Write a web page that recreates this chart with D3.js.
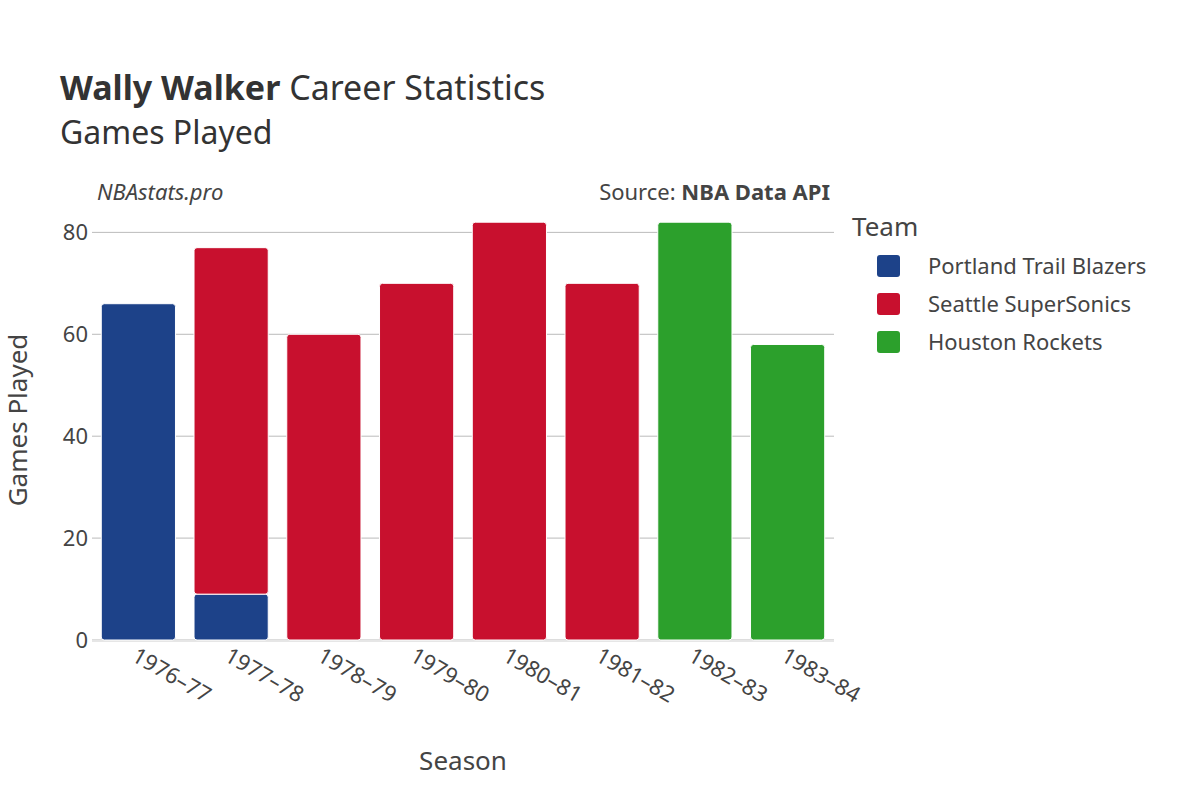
<!DOCTYPE html>
<html><head><meta charset="utf-8">
<script src="https://cdn.jsdelivr.net/npm/d3@7"></script>
<style>body{margin:0;background:#fff;font-family:"Noto Sans",sans-serif;}</style>
</head><body><svg id="chart" width="1200" height="800"></svg>
<script>
var seasons = ["1976–77","1977–78","1978–79","1979–80","1980–81","1981–82","1982–83","1983–84"];
var teams = ["Portland Trail Blazers","Seattle SuperSonics","Houston Rockets"];
var colors = ["#1d4289","#c8102e","#2ca02c"];
var portland = [66,9,0,0,0,0,0,0];
var seattle = [0,68,60,70,82,70,0,0];
var houston = [0,0,0,0,0,0,82,58];
var yTicks = [0,20,40,60,80];

var svg = d3.select("#chart");
var x = d3.scaleBand().domain(seasons).range([92,834]).paddingInner(0.2).paddingOuter(0.1);
var y = d3.scaleLinear().domain([0,84]).range([640,212]);

//gridlines
svg.selectAll(".grid").data(yTicks).enter().append("line")
  .attr("x1",92).attr("x2",834).attr("y1",d=>y(d)).attr("y2",d=>y(d))
  .attr("stroke","#bbb").attr("stroke-width",1);
svg.append("line").attr("x1",92).attr("x2",834).attr("y1",y(0)+1).attr("y2",y(0)+1)
  .attr("stroke","#e6e6e6").attr("stroke-width",2);

svg.selectAll(".ylab").data(yTicks).enter().append("text")
  .attr("x",88).attr("y",d=>y(d)+8).attr("text-anchor","end")
  .attr("font-size",22).attr("fill","#444").text(d=>d);

//stacked bars
var series = [portland,seattle,houston];
seasons.forEach(function(s,i){
  var base = 0;
  series.forEach(function(vals,t){
    var v = vals[i];
    if (!v) return;
    svg.append("rect").attr("x",x(s)).attr("width",x.bandwidth())
      .attr("y",y(base+v)).attr("height",y(base)-y(base+v))
      .attr("rx",3).attr("fill",colors[t]).attr("stroke","#fff").attr("stroke-width",1);
    base += v;
  });
});

//x labels
svg.selectAll(".xlab").data(seasons).enter().append("text")
  .attr("transform",d=>"translate("+(x(d)+x.bandwidth()/2-8)+",660) rotate(30)")
  .attr("font-size",22).attr("fill","#444").text(d=>d);

svg.append("text").attr("x",463).attr("y",770).attr("text-anchor","middle")
  .attr("font-size",26).attr("fill","#444").text("Season");
svg.append("text").attr("transform","translate(27,420) rotate(-90)").attr("text-anchor","middle")
  .attr("font-size",26).attr("fill","#444").text("Games Played");

var t = svg.append("text").attr("x",60).attr("y",100).attr("font-size",34).attr("fill","#333");
t.append("tspan").attr("font-weight","bold").text("Wally Walker");
t.append("tspan").text(" Career Statistics");
svg.append("text").attr("x",60).attr("y",144).attr("font-size",32).attr("fill","#333").text("Games Played");

svg.append("text").attr("x",97).attr("y",200).attr("font-size",22).attr("font-style","italic")
  .attr("fill","#444").text("NBAstats.pro");
var src = svg.append("text").attr("x",830).attr("y",200).attr("text-anchor","end")
  .attr("font-size",22).attr("fill","#444");
src.append("tspan").text("Source: ");
src.append("tspan").attr("font-weight","bold").text("NBA Data API");

//legend
svg.append("text").attr("x",852).attr("y",236).attr("font-size",26).attr("fill","#444").text("Team");
teams.forEach(function(name,i){
  var yy = 266 + i*38;
  svg.append("rect").attr("x",877).attr("y",yy-11).attr("width",23).attr("height",22)
    .attr("rx",3).attr("fill",colors[i]);
  svg.append("text").attr("x",928).attr("y",yy+8).attr("font-size",22).attr("fill","#444").text(name);
});
</script></body></html>
